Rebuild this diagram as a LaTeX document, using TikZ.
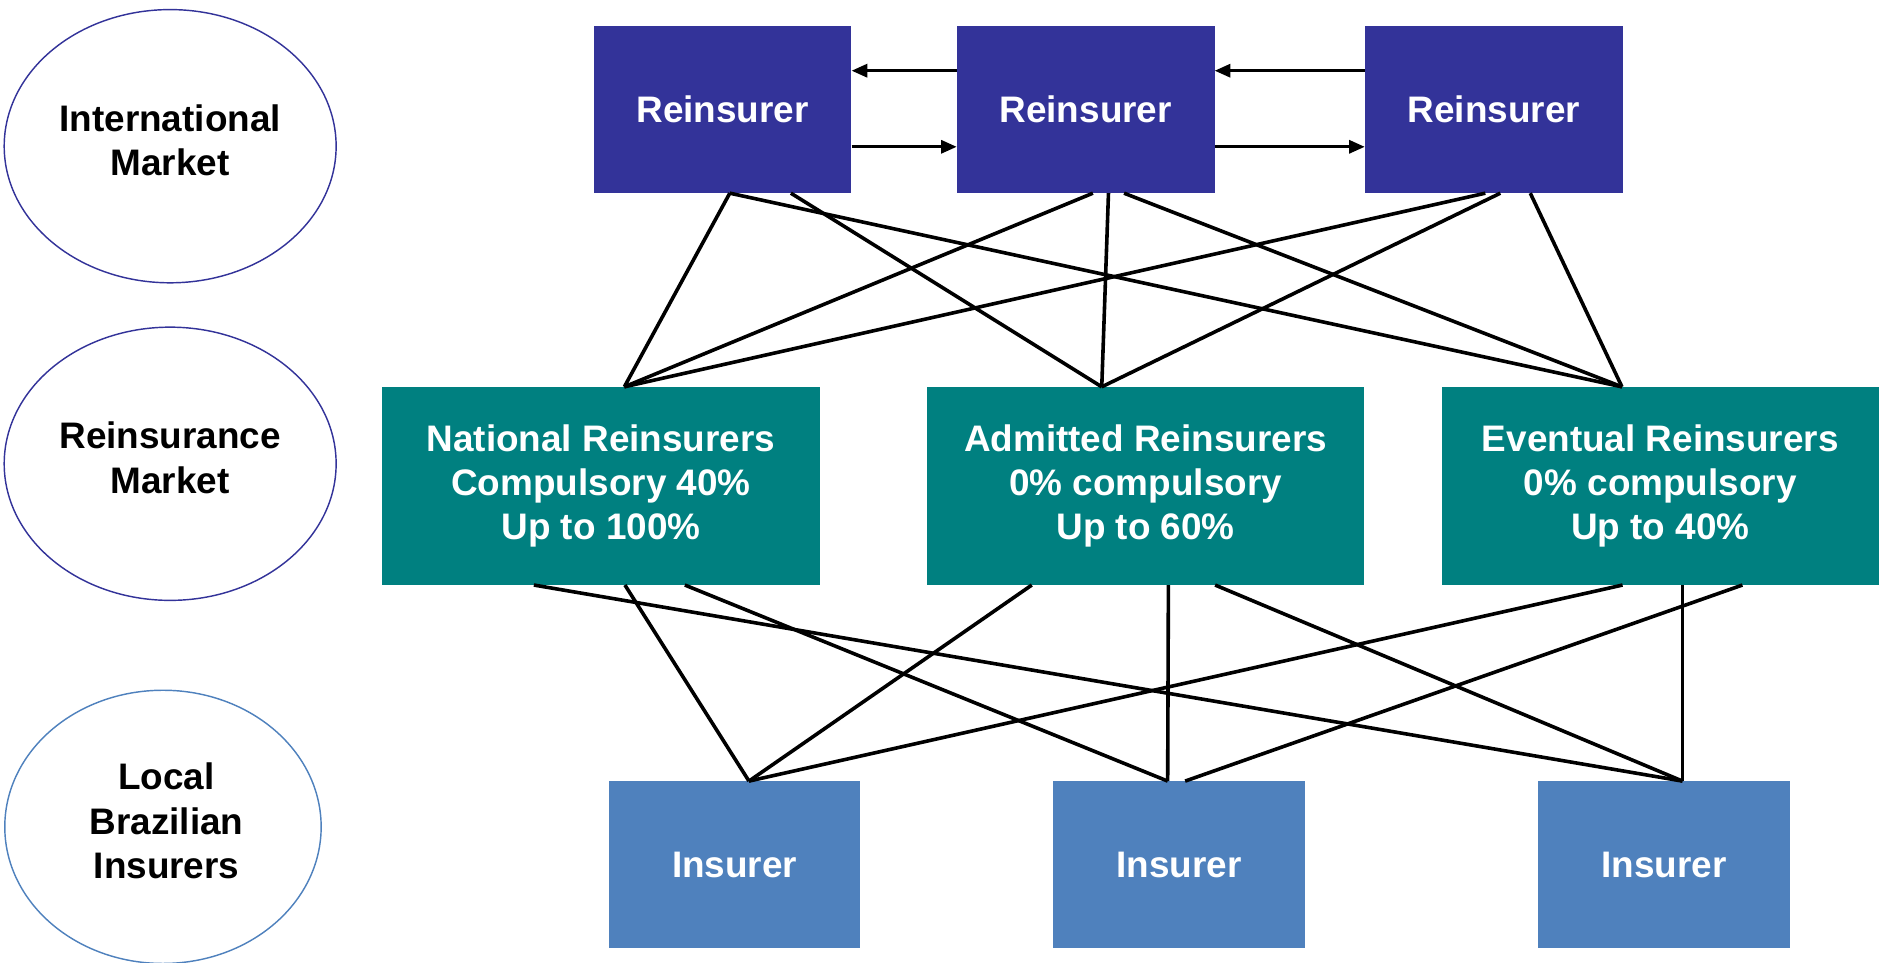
\documentclass[tikz,border=0pt]{standalone}
\usepackage{fontspec}
\setmainfont{Liberation Sans}
\usetikzlibrary{shapes.geometric, arrows.meta}

\definecolor{reblue}{RGB}{51,51,153}
\definecolor{reteal}{RGB}{0,128,128}
\definecolor{insblue}{RGB}{79,129,189}

\tikzset{
  market/.style={ellipse, draw=reblue, line width=1.2pt, minimum width=277pt, minimum height=228pt, inner sep=0pt},
  marklbl/.style={align=center, font=\bfseries\fontsize{30.8}{37}\selectfont},
  box/.style={rectangle, inner sep=0pt, text=white, align=center, font=\bfseries\fontsize{30.8}{37}\selectfont},
  reinbox/.style={box, fill=reblue, minimum width=215pt, minimum height=139pt},
  midbox/.style={box, fill=reteal, minimum width=365pt, minimum height=165pt},
  insbox/.style={box, fill=insblue, minimum width=210pt, minimum height=139pt},
  link/.style={line width=3pt},
  flow/.style={line width=2.2pt, -{Triangle[length=13pt,width=11pt]}}
}

\begin{document}
\begin{tikzpicture}[x=1pt, y=-1pt]
        \useasboundingbox (0,0) rectangle (1568,803.6);
        % market levels
        \node[market] (intl) at (142,122) {};
        \node[market] (remk) at (142,387) {};
        \node[market, draw=insblue, minimum width=264pt] (locl) at (136,690) {};
        \node[marklbl] (intltxt) at (142,117) {International\\Market};
        \node[marklbl] (remktxt) at (142,382) {Reinsurance\\Market};
        \node[marklbl] (locltxt) at (139,685) {Local\\Brazilian\\Insurers};
        % international reinsurers
        \node[reinbox] (r1) at (603,91.5) {Reinsurer};
        \node[reinbox] (r2) at (906,91.5) {Reinsurer};
        \node[reinbox] (r3) at (1246.5,91.5) {Reinsurer};
        \draw[flow] ([yshift=32.5pt]r2.west) -- ([yshift=32.5pt]r1.east);
        \draw[flow] ([yshift=-31pt]r1.east) -- ([yshift=-31pt]r2.west);
        \draw[flow] ([yshift=32.5pt]r3.west) -- ([yshift=32.5pt]r2.east);
        \draw[flow] ([yshift=-31pt]r2.east) -- ([yshift=-31pt]r3.west);
        % reinsurance market
        \node[midbox] (nat) at (501.5,405.5) {National Reinsurers\\Compulsory 40\%\\Up to 100\%};
        \node[midbox] (adm) at (956,405.5) {Admitted Reinsurers\\0\% compulsory\\Up to 60\%};
        \node[midbox] (evt) at (1385.5,405.5) {Eventual Reinsurers\\0\% compulsory\\Up to 40\%};
        % local insurers
        \node[insbox] (i1) at (613,721.5) {Insurer};
        \node[insbox] (i2) at (984,721.5) {Insurer};
        \node[insbox] (i3) at (1388.5,721.5) {Insurer};
        % meeting points
        \coordinate (natin) at ([xshift=19.5pt]nat.north);
        \coordinate (admin) at ([xshift=-36.6pt]adm.north);
        \coordinate (evtin) at ([xshift=-32pt]evt.north);
        \coordinate (i1in) at ([xshift=12pt]i1.north);
        \coordinate (i2in) at ([xshift=-9.6pt]i2.north);
        \coordinate (i3in) at ([xshift=15.5pt]i3.north);
        % reinsurers to reinsurance market
        \draw[link] ([xshift=6pt]r1.south) -- (natin);
        \draw[link] ([xshift=6pt]r1.south) -- (evtin);
        \draw[link] ([xshift=57pt]r1.south) -- (admin);
        \draw[link] ([xshift=6pt]r2.south) -- (natin);
        \draw[link] ([xshift=19pt]r2.south) -- (admin);
        \draw[link] ([xshift=32pt]r2.south) -- (evtin);
        \draw[link] ([xshift=-7pt]r3.south) -- (natin);
        \draw[link] ([xshift=5.5pt]r3.south) -- (admin);
        \draw[link] ([xshift=30.5pt]r3.south) -- (evtin);
        % reinsurance market to insurers
        \draw[link] ([xshift=20pt]nat.south) -- (i1in);
        \draw[link] ([xshift=70pt]nat.south) -- (i2in);
        \draw[link] ([xshift=-56pt]nat.south) -- (i3in);
        \draw[link] ([xshift=-95pt]adm.south) -- (i1in);
        \draw[link] ([xshift=19pt]adm.south) -- (i2in);
        \draw[link] ([xshift=58pt]adm.south) -- (i3in);
        \draw[link] ([xshift=-31.5pt]evt.south) -- (i1in);
        \draw[link] ([xshift=68.5pt]evt.south) -- ([xshift=5pt]i2.north);
        \draw[link] ([xshift=18.5pt]evt.south) -- (i3in);
\end{tikzpicture}
\end{document}
